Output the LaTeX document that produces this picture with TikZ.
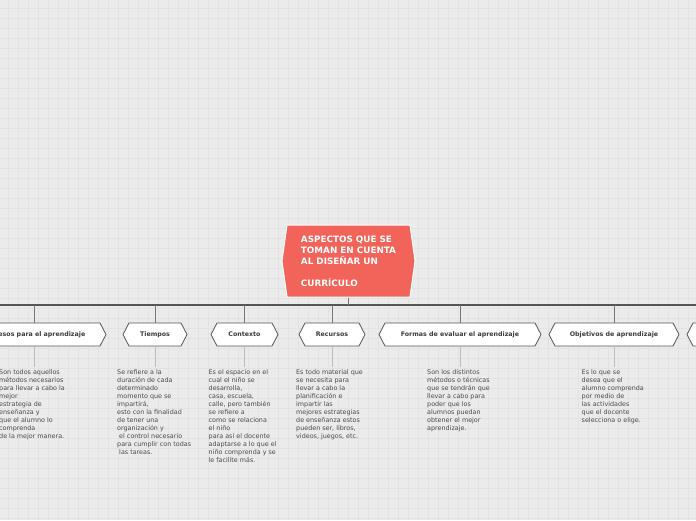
\documentclass[tikz,border=0pt]{standalone}
\usepackage{fontspec}
\setmainfont{DejaVu Sans}
\usetikzlibrary{shapes.symbols}
\definecolor{bgc}{HTML}{EBEBEB}
\definecolor{gridc}{HTML}{E2E2E2}
\definecolor{mainc}{HTML}{F2645A}
\definecolor{busc}{HTML}{555555}
\definecolor{edgec}{HTML}{555555}
\definecolor{linkc}{HTML}{777777}
\definecolor{softc}{HTML}{BBBBBB}
\definecolor{labelc}{HTML}{3C3C3C}
\definecolor{bodyc}{HTML}{4A4A4A}
\begin{document}
\begin{tikzpicture}[x=1pt,y=-1pt,
  mainbox/.style={shape=signal, signal to=east and west, signal pointer angle=164,
    fill=mainc, draw=white, line width=1pt, minimum width=133pt, minimum height=72pt,
    inner sep=0pt, text=white, align=left, font=\bfseries\fontsize{8.8}{11}\selectfont},
  hexbox/.style={shape=signal, signal to=east and west, signal pointer angle=125,
    fill=white, draw=edgec, line width=0.8pt, minimum height=23pt, inner sep=0pt,
    text=labelc, font=\bfseries\fontsize{6.3}{7}\selectfont},
  bodytext/.style={anchor=north west, inner sep=0pt, align=left, text=bodyc,
    font=\fontsize{6.4}{8}\selectfont},
  bus/.style={draw=busc, line width=1.6pt},
  link/.style={draw=linkc, line width=0.8pt},
  softlink/.style={draw=softc, line width=0.8pt, shorten >=3pt}
]
\useasboundingbox (0,0) rectangle (696,520);
\clip (0,0) rectangle (696,520);
\fill[bgc] (0,0) rectangle (696,520);
\foreach \g in {8,18,...,696} \draw[gridc, line width=0.7pt] (\g,0) -- (\g,520);
\foreach \g in {8,18,...,520} \draw[gridc, line width=0.7pt] (0,\g) -- (696,\g);

% bus line
\coordinate (busL) at (-5,305);
\coordinate (busR) at (701,305);

% central node
\node[mainbox] (main) at (348.5,261) {ASPECTOS QUE SE\\TOMAN EN CUENTA\\AL DISEÑAR UN\\\mbox{}\\CURRÍCULO};

% children
\node[hexbox, minimum width=144pt] (c1) at (34,334.5) {Procesos para el aprendizaje};
\node[hexbox, minimum width=64pt] (c2) at (155,334.5) {Tiempos};
\node[hexbox, minimum width=67pt] (c3) at (244.5,334.5) {Contexto};
\node[hexbox, minimum width=66pt] (c4) at (332,334.5) {Recursos};
\node[hexbox, minimum width=162pt] (c5) at (460,334.5) {Formas de evaluar el aprendizaje};
\node[hexbox, minimum width=130pt] (c6) at (614,334.5) {Objetivos de aprendizaje};
\node[hexbox, minimum width=120pt] (c7) at (747,334.5) {};

\draw[bus] (busL) -- (busR);
\draw[link, line width=1pt] (main.south) -- (main.south |- busL);
\foreach \c in {c1,c2,c3,c4,c5,c6,c7}
  \draw[link] (\c.north) -- (\c.north |- busL);

% descriptions
\node[bodytext] (t1) at (-1,369.5) {Son todos aquellos\\métodos necesarios\\para llevar a cabo la\\mejor\\estrategia de\\enseñanza y\\que el alumno lo\\comprenda\\de la mejor manera.};
\node[bodytext] (t2) at (117,369.5) {Se refiere a la\\duración de cada\\determinado\\momento que se\\impartirá,\\esto con la finalidad\\de tener una\\organización y\\\ el control necesario\\para cumplir con todas\\\ las tareas.};
\node[bodytext] (t3) at (208.5,369.5) {Es el espacio en el\\cual el niño se\\desarrolla,\\casa, escuela,\\calle, pero también\\se refiere a\\como se relaciona\\el niño\\para así el docente\\adaptarse a lo que el\\niño comprenda y se\\le facilite más.};
\node[bodytext] (t4) at (296,369.5) {Es todo material que\\se necesita para\\llevar a cabo la\\planificación e\\impartir las\\mejores estrategias\\de enseñanza estos\\pueden ser, libros,\\videos, juegos, etc.};
\node[bodytext] (t5) at (427,369.5) {Son los distintos\\métodos o técnicas\\que se tendrán que\\llevar a cabo para\\poder que los\\alumnos puedan\\obtener el mejor\\aprendizaje.};
\node[bodytext] (t6) at (581.5,369.5) {Es lo que se\\desea que el\\alumno comprenda\\por medio de\\las actividades\\que el docente\\selecciona o elige.};

\foreach \c/\t in {c1/t1,c2/t2,c3/t3,c4/t4,c5/t5,c6/t6}
  \draw[softlink] (\c.south) -- (\c.south |- \t.north);
\end{tikzpicture}
\end{document}
